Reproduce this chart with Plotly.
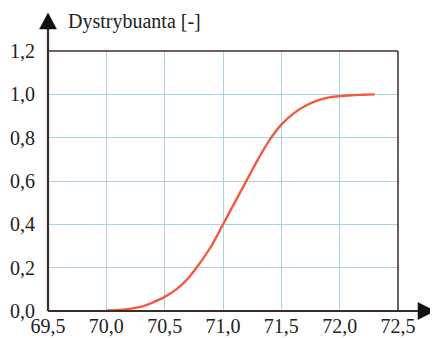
import plotly.graph_objects as go

# Data
x_vals = [70.0, 70.1, 70.2, 70.3, 70.4, 70.5, 70.6, 70.7, 70.8, 70.9, 71.0, 71.1,
          71.2, 71.3, 71.4, 71.5, 71.6, 71.7, 71.8, 71.9, 72.0, 72.1, 72.2, 72.3]
cdf_vals = [0.002, 0.005, 0.01, 0.02, 0.04, 0.065, 0.10, 0.15, 0.22, 0.30, 0.40, 0.50,
            0.60, 0.70, 0.79, 0.86, 0.91, 0.945, 0.97, 0.985, 0.992, 0.996, 0.998, 1.0]
x_ticks = [69.5, 70.0, 70.5, 71.0, 71.5, 72.0, 72.5]
y_ticks = [0.0, 0.2, 0.4, 0.6, 0.8, 1.0, 1.2]
y_title = "Dystrybuanta [-]"

# The page body has an 8px margin, so the figure is drawn 8px in from the corner
OFF = 8
W, H = 438 - OFF, 338 - OFF
L, R, T, B = 48 - OFF, 40, 51 - OFF, 27
PW, PH = W - L - R, H - T - B

def px(x):
    return (x - OFF - L) / PW

def py(y):
    return (OFF + T + PH - y) / PH

FONT = "Liberation Serif"
AX = "#3b2c27"
GRID = "#a9d3e3"

fig = go.Figure()
fig.add_trace(go.Scatter(x=x_vals, y=cdf_vals, mode="lines",
                         line=dict(color="#f25a40", width=2.4, shape="spline", smoothing=1.0),
                         hoverinfo="skip", showlegend=False))

fig.update_layout(
    width=W, height=H,
    margin=dict(l=L, r=R, t=T, b=B, autoexpand=False),
    paper_bgcolor="white", plot_bgcolor="white",
    separators=", ",
    font=dict(family=FONT, size=20, color="#222"),
    xaxis=dict(range=[69.5, 72.5], tickvals=x_ticks, tickformat=".1f", automargin=False,
               showgrid=True, gridcolor=GRID, gridwidth=1, zeroline=False,
               showline=False, ticks="", ticklabelstandoff=1),
    yaxis=dict(range=[0, 1.2], tickvals=y_ticks, tickformat=".1f", automargin=False,
               showgrid=True, gridcolor=GRID, gridwidth=1, zeroline=False,
               showline=False, ticks="", ticklabelstandoff=12),
    showlegend=False,
)

shapes = []
# top and right border
shapes.append(dict(type="line", xref="paper", yref="paper", x0=0, x1=1, y0=1, y1=1,
                   line=dict(color=AX, width=1.5)))
shapes.append(dict(type="line", xref="paper", yref="paper", x0=1, x1=1, y0=0, y1=1,
                   line=dict(color=AX, width=1.5)))
# y axis line with arrow
shapes.append(dict(type="line", xref="paper", yref="paper", x0=px(48), x1=px(48),
                   y0=py(311), y1=py(28), line=dict(color=AX, width=2.2)))
shapes.append(dict(type="path", xref="paper", yref="paper",
                   path=f"M {px(39.5)} {py(29)} L {px(56.5)} {py(29)} L {px(48)} {py(13)} Z",
                   fillcolor="#111", line=dict(color="#111", width=0.5)))
# x axis line with arrow
shapes.append(dict(type="line", xref="paper", yref="paper", x0=px(48), x1=px(419),
                   y0=py(311), y1=py(311), line=dict(color=AX, width=2.2)))
shapes.append(dict(type="path", xref="paper", yref="paper",
                   path=f"M {px(418)} {py(302.5)} L {px(418)} {py(319.5)} L {px(435)} {py(311)} Z",
                   fillcolor="#111", line=dict(color="#111", width=0.5)))
fig.update_layout(shapes=shapes)

fig.add_annotation(text=y_title, xref="paper", yref="paper", x=px(66), y=py(22),
                   xanchor="left", yanchor="middle", showarrow=False,
                   font=dict(family=FONT, size=20, color="#222"))

fig.write_html("out.html")
